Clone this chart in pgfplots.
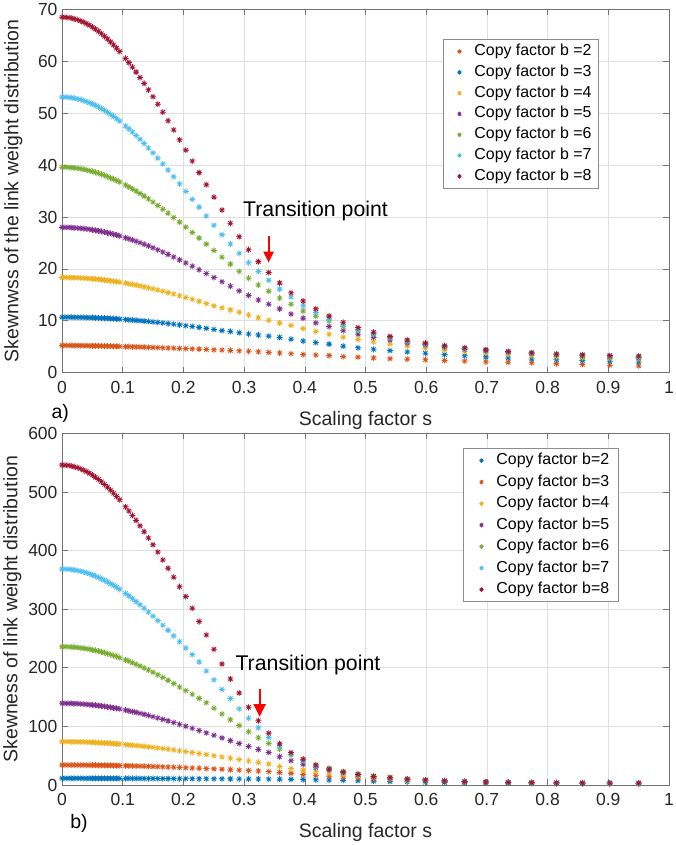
\documentclass[border=0pt]{standalone}
\usepackage{pgfplots}
\pgfplotsset{compat=1.18}
\usepackage{pgfplotstable}
\usepackage{fontspec}
\setmainfont{Liberation Sans}
\usetikzlibrary{arrows.meta}
\definecolor{mblue}{rgb}{0,0.447,0.741}
\definecolor{morange}{rgb}{0.850,0.325,0.098}
\definecolor{myellow}{rgb}{0.929,0.694,0.125}
\definecolor{mpurple}{rgb}{0.494,0.184,0.556}
\definecolor{mgreen}{rgb}{0.466,0.674,0.188}
\definecolor{mcyan}{rgb}{0.301,0.745,0.933}
\definecolor{mred}{rgb}{0.635,0.078,0.184}
\definecolor{axgray}{rgb}{0.15,0.15,0.15}
\definecolor{gridgray}{rgb}{0.875,0.875,0.875}

\pgfdeclareplotmark{mstar}{%
  \pgfpathmoveto{\pgfqpoint{-\pgfplotmarksize}{0pt}}\pgfpathlineto{\pgfqpoint{\pgfplotmarksize}{0pt}}%
  \pgfpathmoveto{\pgfqpoint{0pt}{-\pgfplotmarksize}}\pgfpathlineto{\pgfqpoint{0pt}{\pgfplotmarksize}}%
  \pgfpathmoveto{\pgfqpoint{-0.707\pgfplotmarksize}{-0.707\pgfplotmarksize}}\pgfpathlineto{\pgfqpoint{0.707\pgfplotmarksize}{0.707\pgfplotmarksize}}%
  \pgfpathmoveto{\pgfqpoint{-0.707\pgfplotmarksize}{0.707\pgfplotmarksize}}\pgfpathlineto{\pgfqpoint{0.707\pgfplotmarksize}{-0.707\pgfplotmarksize}}%
  \pgfusepathqstroke}

% panel a: s, b=2 ... b=8
\pgfplotstableread{
s b2 b3 b4 b5 b6 b7 b8
0 5.25 10.70 18.35 28.00 39.60 53.10 68.50
0.005 5.25 10.70 18.35 28.00 39.59 53.09 68.48
0.01 5.24 10.70 18.34 27.98 39.57 53.05 68.42
0.015 5.24 10.69 18.33 27.96 39.53 52.98 68.33
0.02 5.23 10.68 18.31 27.92 39.47 52.89 68.19
0.025 5.23 10.67 18.29 27.88 39.39 52.77 68.02
0.03 5.22 10.66 18.26 27.83 39.31 52.62 67.81
0.035 5.21 10.65 18.22 27.77 39.20 52.45 67.56
0.04 5.20 10.63 18.18 27.70 39.08 52.25 67.28
0.045 5.19 10.61 18.14 27.62 38.94 52.03 66.96
0.05 5.18 10.59 18.09 27.53 38.79 51.78 66.60
0.055 5.17 10.57 18.04 27.43 38.62 51.51 66.21
0.06 5.16 10.55 17.98 27.33 38.43 51.21 65.78
0.065 5.15 10.52 17.92 27.21 38.23 50.89 65.32
0.07 5.13 10.49 17.85 27.09 38.02 50.54 64.82
0.075 5.12 10.46 17.77 26.96 37.79 50.17 64.30
0.08 5.10 10.43 17.70 26.82 37.55 49.78 63.74
0.085 5.09 10.40 17.61 26.67 37.29 49.37 63.15
0.09 5.07 10.36 17.53 26.51 37.02 48.94 62.53
0.095 5.05 10.32 17.43 26.35 36.74 48.48 61.88
0.1047 5.02 10.24 17.24 26.00 36.15 47.55 60.54
0.1102 5.00 10.19 17.13 25.80 35.80 46.98 59.74
0.1160 4.98 10.14 17.00 25.57 35.41 46.37 58.87
0.1221 4.96 10.08 16.86 25.32 34.99 45.70 57.91
0.1285 4.94 10.02 16.71 25.05 34.53 44.97 56.87
0.1353 4.92 9.94 16.54 24.75 34.02 44.16 55.73
0.1424 4.89 9.87 16.36 24.43 33.47 43.30 54.51
0.1499 4.86 9.78 16.16 24.07 32.87 42.35 53.18
0.1578 4.83 9.69 15.93 23.67 32.21 41.33 51.74
0.1661 4.80 9.58 15.70 23.25 31.50 40.22 50.20
0.1748 4.76 9.47 15.43 22.79 30.73 39.04 48.55
0.1840 4.72 9.35 15.15 22.29 29.90 37.76 46.78
0.1937 4.68 9.21 14.84 21.74 29.01 36.39 44.88
0.2039 4.64 9.06 14.50 21.15 28.05 34.93 42.88
0.2146 4.59 8.91 14.14 20.52 27.02 33.39 40.77
0.2259 4.54 8.73 13.75 19.84 25.93 31.90 38.55
0.2378 4.48 8.54 13.32 19.11 24.77 30.20 36.23
0.2503 4.42 8.33 12.87 18.34 23.55 28.40 33.82
0.2635 4.36 8.11 12.50 17.53 22.26 26.60 31.34
0.2774 4.29 7.95 12.10 16.66 20.92 24.80 28.79
0.2920 4.21 7.70 11.65 15.76 19.53 23.00 26.20
0.3074 4.13 7.45 11.10 14.90 18.20 21.20 23.70
0.3235 4.04 7.25 10.60 14.00 16.90 19.50 21.40
0.3406 3.90 7.05 10.10 13.20 15.70 17.80 19.30
0.3585 3.80 6.80 9.60 12.30 14.40 16.10 17.30
0.3774 3.65 6.45 9.10 11.30 13.20 14.60 15.40
0.3972 3.50 6.10 8.50 10.50 11.90 12.90 13.80
0.4181 3.40 5.80 7.95 9.60 10.90 11.60 12.30
0.4401 3.30 5.50 7.40 8.90 10.00 10.30 10.90
0.4633 3.10 5.10 6.85 8.10 8.90 9.20 9.70
0.4877 3.00 4.80 6.40 7.40 8.10 8.30 8.70
0.5133 2.85 4.50 5.90 6.80 7.30 7.50 7.80
0.5404 2.70 4.25 5.50 6.30 6.70 6.80 7.00
0.5688 2.60 4.00 5.10 5.70 6.00 6.10 6.30
0.5987 2.50 3.75 4.70 5.30 5.45 5.50 5.70
0.6302 2.35 3.50 4.35 4.90 5.00 5.10 5.20
0.6634 2.25 3.25 4.05 4.50 4.60 4.65 4.80
0.6983 2.10 3.05 3.80 4.25 4.30 4.35 4.40
0.7351 2.00 2.85 3.55 3.95 4.00 4.05 4.10
0.7738 1.90 2.65 3.30 3.70 3.75 3.80 3.85
0.8145 1.75 2.50 3.10 3.45 3.50 3.60 3.60
0.8574 1.60 2.35 2.90 3.25 3.30 3.40 3.45
0.9025 1.45 2.20 2.75 3.05 3.10 3.20 3.30
0.9500 1.30 2.05 2.60 2.85 2.95 3.05 3.20
}\tabA

% panel b: s, b=2 ... b=8
\pgfplotstableread{
s b2 b3 b4 b5 b6 b7 b8
0 11.4 34.10 73.90 139.4 236.0 368.6 546.0
0.005 11.4 34.10 73.89 139.4 236.0 368.5 545.8
0.01 11.4 34.09 73.85 139.3 235.8 368.2 545.3
0.015 11.4 34.07 73.80 139.2 235.5 367.7 544.4
0.02 11.4 34.05 73.72 139.0 235.1 367.0 543.2
0.025 11.4 34.03 73.61 138.7 234.7 366.1 541.7
0.03 11.4 33.99 73.49 138.4 234.1 365.0 539.8
0.035 11.35 33.96 73.34 138.1 233.4 363.7 537.5
0.04 11.35 33.91 73.16 137.6 232.6 362.2 535.0
0.045 11.35 33.86 72.97 137.2 231.7 360.5 532.1
0.05 11.3 33.81 72.75 136.7 230.7 358.6 528.9
0.055 11.3 33.75 72.52 136.1 229.6 356.6 525.3
0.06 11.3 33.68 72.26 135.5 228.4 354.3 521.5
0.065 11.3 33.61 71.97 134.8 227.1 351.9 517.4
0.07 11.25 33.53 71.67 134.1 225.7 349.3 512.9
0.075 11.25 33.45 71.35 133.3 224.2 346.5 508.2
0.08 11.25 33.36 71.00 132.5 222.6 343.6 503.2
0.085 11.2 33.27 70.64 131.6 220.9 340.5 497.9
0.09 11.2 33.17 70.25 130.7 219.2 337.3 492.4
0.095 11.2 33.06 69.85 129.8 217.3 333.9 486.6
0.1047 11.15 32.84 69.01 127.8 213.5 326.9 474.7
0.1102 11.15 32.71 68.50 126.6 211.2 322.7 467.6
0.1160 11.1 32.56 67.94 125.3 208.7 318.0 459.9
0.1221 11.1 32.40 67.33 123.9 206.0 313.0 451.5
0.1285 11.05 32.22 66.66 122.3 203.0 307.6 442.3
0.1353 11.05 32.03 65.91 120.6 199.7 301.6 432.3
0.1424 11.0 31.81 65.10 118.7 196.2 295.2 421.6
0.1499 11.0 31.57 64.21 116.6 192.4 288.2 410.0
0.1578 10.95 31.31 63.24 114.4 188.1 280.6 397.5
0.1661 10.9 31.02 62.19 112.0 183.6 272.6 384.1
0.1748 10.9 30.71 61.05 109.4 178.5 263.9 369.8
0.1840 10.85 30.36 59.80 106.6 173.2 254.5 354.6
0.1937 10.8 29.98 58.45 103.5 167.1 244.5 338.4
0.2039 10.75 29.57 56.99 100.2 161.1 233.8 321.6
0.2146 10.7 29.12 55.42 96.7 154.7 222.6 301.5
0.2259 10.65 28.62 53.73 93.0 147.8 210.0 279.0
0.2378 10.6 28.08 51.91 89.0 140.5 194.5 256.0
0.2503 10.55 27.50 49.96 84.8 131.0 179.5 231.5
0.2635 10.5 26.87 47.89 80.4 121.0 163.0 206.5
0.2774 10.45 26.19 45.69 75.7 111.5 147.5 181.0
0.2920 10.4 25.44 43.37 70.8 101.5 130.0 157.0
0.3074 10.3 24.65 40.96 65.8 91.0 114.0 132.6
0.3235 10.2 23.81 38.44 60.7 80.7 97.8 109.7
0.3406 10.1 22.90 35.80 55.5 71.0 81.0 88.5
0.3585 9.9 21.50 31.50 48.3 61.4 66.0 70.5
0.3774 9.6 19.80 28.20 41.5 51.2 52.5 55.3
0.3972 9.3 18.00 25.40 35.3 42.7 41.5 44.0
0.4181 8.9 16.50 22.70 29.5 34.0 31.5 34.0
0.4401 8.5 15.00 20.00 25.6 28.4 25.6 26.8
0.4633 7.9 13.60 17.50 21.5 23.0 21.0 22.0
0.4877 7.3 12.20 15.00 18.0 19.0 17.0 18.0
0.5133 6.6 10.90 12.80 15.0 15.5 14.0 14.5
0.5404 6.0 9.70 10.80 12.5 12.5 11.8 12.5
0.5688 5.4 8.60 9.20 10.3 10.2 9.6 10.0
0.5987 4.8 7.60 7.80 8.5 8.4 8.1 8.5
0.6302 4.3 6.70 6.60 7.0 6.9 6.7 7.0
0.6634 3.8 5.90 5.60 5.9 5.8 5.6 5.8
0.6983 3.4 5.20 4.80 5.0 4.9 4.8 5.0
0.7351 3.0 4.60 4.10 4.3 4.3 4.3 4.5
0.7738 2.7 4.00 3.60 3.8 3.9 3.9 4.1
0.8145 2.4 3.50 3.20 3.4 3.5 3.6 3.8
0.8574 2.1 3.10 2.90 3.1 3.3 3.4 3.6
0.9025 1.9 2.80 2.60 2.9 3.1 3.2 3.4
0.9500 1.7 2.50 2.40 2.7 2.9 3.1 3.3
}\tabB

\pgfplotsset{
  mataxis/.style={
    scale only axis, width=607pt, anchor=south west, clip=false,
    xmin=0, xmax=1, xtick={0,0.1,0.2,0.3,0.4,0.5,0.6,0.7,0.8,0.9,1},
    /pgf/number format/assume math mode=true,
    tick align=inside, tick pos=both, major tick length=6pt,
    axis line style={black!55, line width=0.6pt},
    every tick/.style={black!55, line width=0.6pt},
    grid=major, major grid style={gridgray, line width=0.6pt},
    tick label style={font=\fontsize{17.5}{20}\selectfont, text=axgray},
    xticklabel style={yshift=-5pt},
    yticklabel style={xshift=-1pt},
    label style={font=\fontsize{19.5}{23}\selectfont, text=axgray},
    legend style={anchor=north west, draw=black!45, line width=0.5pt, fill=white,
      font=\fontsize{15.9}{18}\selectfont, text=black, inner xsep=7pt, inner ysep=4pt,
      nodes={inner xsep=0pt, inner ysep=0pt, text height=12pt, text depth=4pt},
      cells={anchor=west}},
    legend image code/.code={\path[draw=none,fill=none] (-9pt,-1pt) rectangle (15pt,1pt);\draw[mark size=2.2pt] plot coordinates {(0pt,0pt)};},
    every axis plot/.append style={only marks, mark=mstar, mark size=3pt, line width=0.8pt},
  }
}

\begin{document}
\begin{tikzpicture}
\path[use as bounding box] (0,0) rectangle (675pt,845pt);
\begin{axis}[mataxis, at={(62pt,472.3pt)}, height=363.3pt,
  ymin=0, ymax=70, ytick={0,10,20,30,40,50,60,70},
  xlabel={Scaling factor s},
  xlabel style={at={(axis description cs:0.5,-0.1467)}, anchor=base},
  ylabel={Skewnwss of the link weight distribution},
  ylabel style={at={(axis description cs:-0.072,0.5)}, anchor=base},
  legend style={at={(axis description cs:0.628,0.9177)}, row sep=4.8pt}]
\addplot[color=morange] table[x=s,y=b2]{\tabA};
\addlegendentry{Copy factor b =2}
\addplot[color=mblue] table[x=s,y=b3]{\tabA};
\addlegendentry{Copy factor b =3}
\addplot[color=myellow] table[x=s,y=b4]{\tabA};
\addlegendentry{Copy factor b =4}
\addplot[color=mpurple] table[x=s,y=b5]{\tabA};
\addlegendentry{Copy factor b =5}
\addplot[color=mgreen] table[x=s,y=b6]{\tabA};
\addlegendentry{Copy factor b =6}
\addplot[color=mcyan] table[x=s,y=b7]{\tabA};
\addlegendentry{Copy factor b =7}
\addplot[color=mred] table[x=s,y=b8]{\tabA};
\addlegendentry{Copy factor b =8}
\draw[-{Triangle[length=11pt,width=10pt]}, red, line width=2pt] (axis cs:0.3404,26.3) -- (axis cs:0.3404,21.2);
\node[anchor=base west, inner sep=0pt, font=\fontsize{21.3}{24}\selectfont] at (axis cs:0.298,30.1) {Transition point};
\node[anchor=base, inner sep=0pt, font=\fontsize{19.5}{23}\selectfont] at (axis description cs:-0.003,-0.1274) {a)};
\end{axis}

\begin{axis}[mataxis, at={(62pt,60pt)}, height=351.6pt,
  ymin=0, ymax=600, ytick={0,100,200,300,400,500,600},
  xlabel={Scaling factor s},
  xlabel style={at={(axis description cs:0.5,-0.148)}, anchor=base},
  ylabel={Skewness of link weight distribution},
  ylabel style={at={(axis description cs:-0.0736,0.5)}, anchor=base},
  legend style={at={(axis description cs:0.661,0.9576)}, row sep=5.5pt, inner xsep=9pt}]
\addplot[color=mblue] table[x=s,y=b2]{\tabB};
\addlegendentry{Copy factor b=2}
\addplot[color=morange] table[x=s,y=b3]{\tabB};
\addlegendentry{Copy factor b=3}
\addplot[color=myellow] table[x=s,y=b4]{\tabB};
\addlegendentry{Copy factor b=4}
\addplot[color=mpurple] table[x=s,y=b5]{\tabB};
\addlegendentry{Copy factor b=5}
\addplot[color=mgreen] table[x=s,y=b6]{\tabB};
\addlegendentry{Copy factor b=6}
\addplot[color=mcyan] table[x=s,y=b7]{\tabB};
\addlegendentry{Copy factor b=7}
\addplot[color=mred] table[x=s,y=b8]{\tabB};
\addlegendentry{Copy factor b=8}
\draw[-{Triangle[length=12.5pt,width=12pt]}, red, line width=2pt] (axis cs:0.3256,163.3) -- (axis cs:0.3256,116.6);
\node[anchor=base west, inner sep=0pt, font=\fontsize{21.3}{24}\selectfont] at (axis cs:0.2855,196) {Transition point};
\node[anchor=base, inner sep=0pt, font=\fontsize{19.5}{23}\selectfont] at (axis description cs:0.028,-0.125) {b)};
\end{axis}
\end{tikzpicture}
\end{document}
